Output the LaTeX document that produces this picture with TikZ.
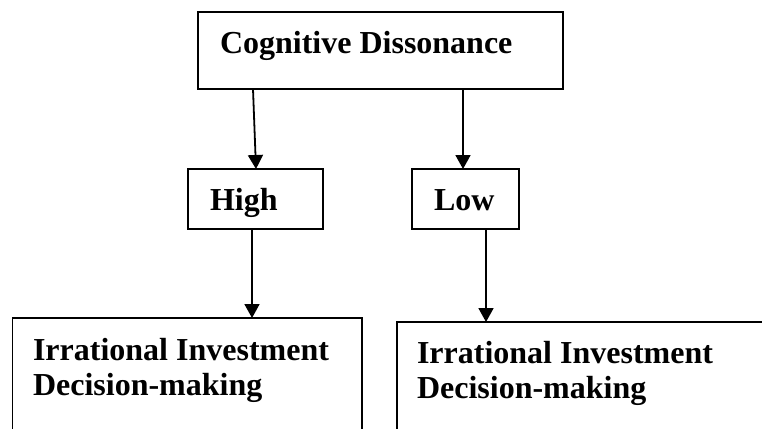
\documentclass[tikz,border=0pt]{standalone}
\usepackage{fontspec}
\setmainfont{Liberation Serif}
\usetikzlibrary{arrows.meta}
\begin{document}
\begin{tikzpicture}[x=1pt,y=-1pt,
  box/.style={draw, line width=1.8pt, inner sep=0pt, outer sep=0pt},
  txt/.style={anchor=base west, inner sep=0pt, outer sep=0pt, align=left,
    font=\fontsize{32}{35}\selectfont\bfseries},
  arr/.style={line width=1.8pt, -{Triangle[length=14pt,width=15pt]}}]
\useasboundingbox (0,0) rectangle (762,428);
\clip (0,0) rectangle (762,428);
% boxes
\node[box, minimum width=365pt, minimum height=77pt] (top) at (380.5,50.5) {};
\node[box, minimum width=135pt, minimum height=60pt] (high) at (255.5,199) {};
\node[box, minimum width=107pt, minimum height=60pt] (low) at (465.5,199) {};
\node[box, minimum width=349.5pt, minimum height=127pt] (lb) at (187.25,381.5) {};
\node[box, minimum width=383pt, minimum height=123pt] (rb) at (588.5,383.5) {};
% texts
\node[txt] (ttop) at (220,53) {Cognitive Dissonance};
\node[txt] (thigh) at (210,210) {High};
\node[txt] (tlow) at (434,210) {Low};
\node[txt] (tlb1) at (33,360) {Irrational Investment};
\node[txt] (tlb2) at (33,395) {Decision-making};
\node[txt] (trb1) at (417,363) {Irrational Investment};
\node[txt] (trb2) at (417,398) {Decision-making};
% arrows
\draw[arr] ([xshift=55pt]top.south west) -- ([xshift=68pt]high.north west);
\draw[arr] ([xshift=265pt]top.south west) -- ([xshift=51pt]low.north west);
\draw[arr] ([xshift=64pt]high.south west) -- ([xshift=239.5pt]lb.north west);
\draw[arr] ([xshift=74pt]low.south west) -- ([xshift=89pt]rb.north west);
\end{tikzpicture}
\end{document}
